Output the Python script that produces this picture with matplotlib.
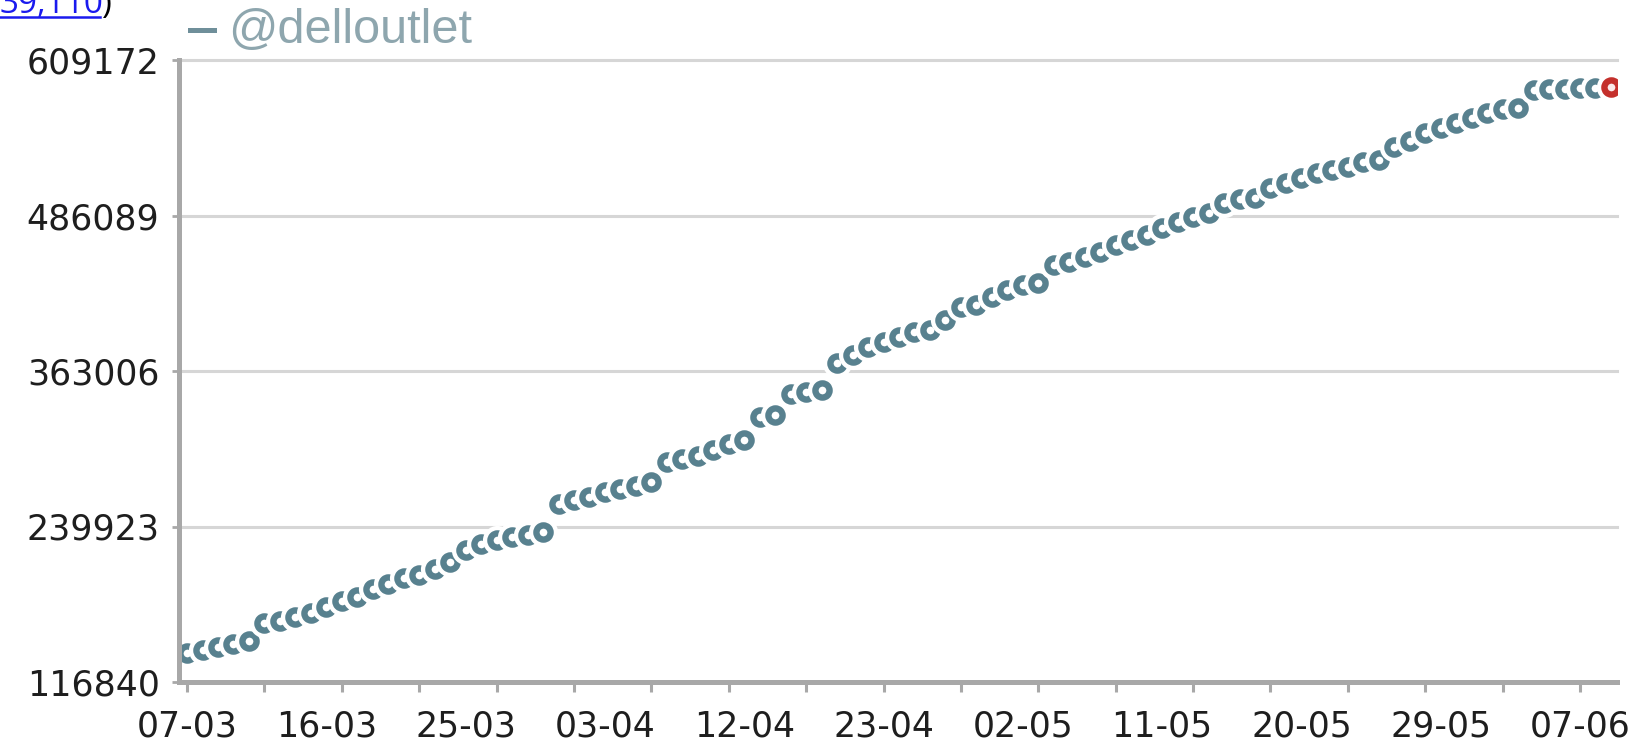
import numpy as np
import matplotlib
matplotlib.use('Agg')
import matplotlib.pyplot as plt
from matplotlib.lines import Line2D

# follower counts, one value per day
followers = [139800, 142200, 144500, 146900, 149500, 163500, 165100, 168300, 171500, 176200,
             180900, 183800, 190500, 194800, 199200, 201500, 206000, 211800, 221300, 226100,
             229500, 231800, 233200, 235600, 258000, 261000, 263500, 267000, 270000, 271800,
             275300, 291000, 293000, 296000, 300500, 305000, 308400, 326600, 328200, 345000,
             346500, 348000, 369500, 375500, 382200, 386200, 390100, 394100, 395400, 403400,
             413900, 415200, 421800, 427100, 431100, 432400, 446900, 449500, 453500, 457400,
             462700, 466700, 471000, 476500, 481200, 485100, 487800, 495700, 499000, 500000,
             507600, 511600, 515500, 519500, 522100, 524700, 528700, 530000, 540600, 545000,
             551500, 555700, 559700, 563000, 567500, 570500, 571000, 585500, 586000, 586500,
             587000, 587300, 587500]

date_labels = ['07-03', '16-03', '25-03', '03-04', '12-04', '23-04',
               '02-05', '11-05', '20-05', '29-05', '07-06']
label_every = 9
tick_every = 5
y_ticks = [116840, 239923, 363006, 486089, 609172]
account = '@delloutlet'

W, H = 1650, 746
fig = plt.figure(figsize=(W / 100, H / 100), dpi=100)
ax = fig.add_axes([179 / W, (H - 682) / H, (1617 - 179) / W, (682 - 60) / H])

n = len(followers)
x = np.arange(n)

# each point: white halo disc then a thick ring, so the next point
# hides the right half of the previous one
for i in range(n):
    ring = '#c4302c' if i == n - 1 else '#58818f'
    face = '#fbeaea' if i == n - 1 else 'white'
    z = 3 + i * 0.01
    ax.plot(x[i], followers[i], ls='none', marker='o', ms=21, mew=0,
            mfc='white', zorder=z)
    ax.plot(x[i], followers[i], ls='none', marker='o', ms=10.2, mew=4.6,
            mec=ring, mfc=face, zorder=z + 0.005)

ax.set_xlim(-0.52, n - 1 + 0.39)
ax.set_ylim(y_ticks[0], y_ticks[-1])

# grid + spines
ax.set_yticks(y_ticks)
ax.set_yticklabels([str(v) for v in y_ticks])
ax.grid(axis='y', color='#d6d6d6', lw=2.2)
for gl in ax.get_ygridlines():
    gl.set_clip_on(False)
ax.set_axisbelow(True)
for s in ['top', 'right']:
    ax.spines[s].set_visible(False)
for s in ['left', 'bottom']:
    ax.spines[s].set_color('#a8a8a8')
    ax.spines[s].set_linewidth(3.6)
    ax.spines[s].set_zorder(5)

# x: tick marks every 5 points, date labels every 9 points
ax.xaxis.remove_overlapping_locs = False
ax.set_xticks(np.arange(0, len(date_labels) * label_every, label_every))
ax.set_xticklabels(date_labels)
ax.set_xticks(np.arange(0, n, tick_every), minor=True)
ax.tick_params(axis='x', which='major', length=0, pad=20, labelsize=25, labelcolor='#1e1e1e')
ax.tick_params(axis='x', which='minor', length=7, width=2.2, color='#a8a8a8')
ax.tick_params(axis='y', length=5, width=2, color='#a8a8a8', pad=9,
               labelsize=25, labelcolor='#1e1e1e')

# legend entry at the top
fig.add_artist(Line2D([190 / W, 214 / W], [(H - 30) / H, (H - 30) / H],
                      color='#6f8f9a', lw=3.6))
fig.text(228 / W, (H - 31) / H, account, color='#8ea6ae', fontsize=35,
         family='Liberation Sans', va='center', ha='left')

# cropped link from the page above
fig.text(0, (H - 13) / H, '39,110', color='#1a1aee', fontsize=24,
         family='Open Sans', va='baseline', ha='left')
fig.add_artist(Line2D([0, 100 / W], [(H - 17) / H, (H - 17) / H], color='#1a1aee', lw=1.8))
fig.text(101 / W, (H - 13) / H, ')', color='black', fontsize=24,
         family='Open Sans', va='baseline', ha='left')

fig.savefig('out.png', dpi=100)
